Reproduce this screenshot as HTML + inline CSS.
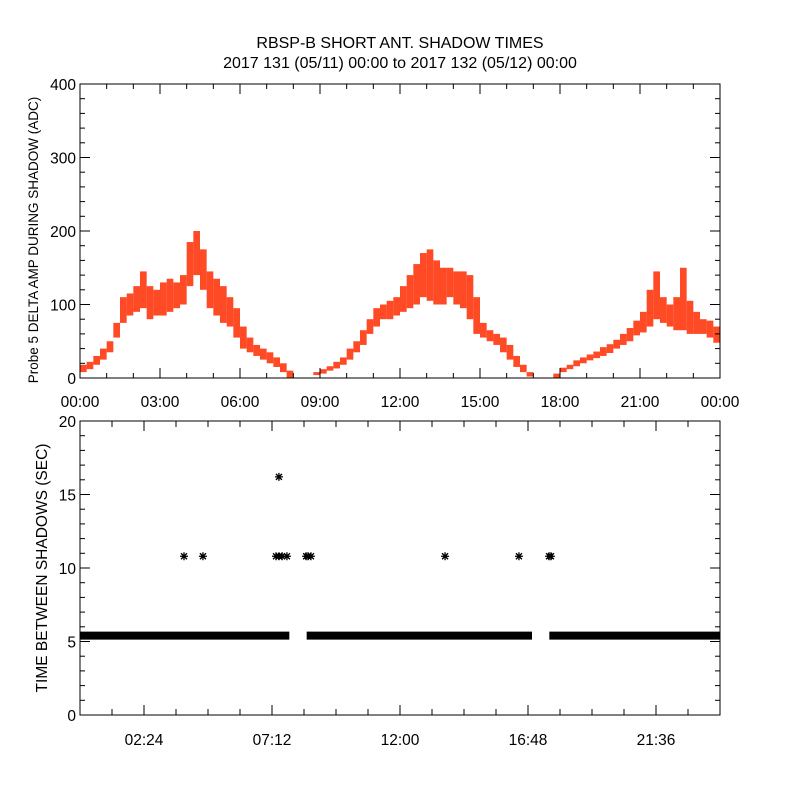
<!DOCTYPE html>
<html><head><meta charset="utf-8"><style>
html,body{margin:0;padding:0;background:#fff}
svg{display:block}
text{font-family:"Liberation Sans",sans-serif;fill:#000}
</style></head><body>
<svg id="c" width="800" height="800" viewBox="0 0 800 800">
<text x="400" y="48" font-size="16" text-anchor="middle">RBSP-B SHORT ANT. SHADOW TIMES</text>
<text x="400" y="68" font-size="16" text-anchor="middle">2017 131 (05/11) 00:00 to 2017 132 (05/12) 00:00</text>
<g id="topPanel"></g>
<g id="botPanel"></g>
</svg>
<script>
// Top panel: 15-minute bins of probe 5 delta amp (low / high envelope)
const ampLow=[8,12,18,25,35,55,75,85,90,95,80,85,85,90,95,100,125,140,120,95,85,75,70,55,40,35,30,25,20,15,8,0,null,null,null,4,6,10,13,18,25,35,45,60,70,80,80,85,90,95,100,110,105,100,100,110,100,95,80,60,55,50,45,35,25,15,8,2,null,null,null,0,8,12,16,20,24,27,30,34,40,45,50,58,62,70,80,75,70,65,65,60,60,60,55,48];
const ampHigh=[18,22,30,40,50,75,110,115,125,145,125,120,130,135,130,140,185,200,175,145,135,125,110,95,70,55,45,40,35,28,20,10,null,null,null,8,12,16,22,28,40,50,65,80,95,100,105,110,125,140,155,170,175,160,150,150,145,145,140,110,75,65,60,55,45,30,18,8,null,null,null,6,14,18,24,28,32,36,42,46,52,60,68,78,90,120,145,110,100,110,150,105,90,80,78,70];
const topYTicks=[0,100,200,300,400];
const topXLabels=["00:00","03:00","06:00","09:00","12:00","15:00","18:00","21:00","00:00"];
// Bottom panel
const baseGap=5.4;
const baseSegments=[[0,7.85],[8.5,16.95],[17.6,24]];
const starHours=[3.9,4.61,7.35,7.46,7.58,7.76,8.48,8.55,8.66,13.69,16.46,17.59,17.66,7.46];
const starValues=[10.8,10.8,10.8,10.8,10.8,10.8,10.8,10.8,10.8,10.8,10.8,10.8,10.8,16.2];
const botYTicks=[0,5,10,15,20];
const botXLabels=["02:24","07:12","12:00","16:48","21:36"];

const NS="http://www.w3.org/2000/svg";
function mk(p,t,a){const e=document.createElementNS(NS,t);for(const k in a)e.setAttribute(k,a[k]);p.appendChild(e);return e;}
const X0=80,X1=720;
const xh=h=>X0+(X1-X0)*h/24;
const yT=v=>378-v*(378-84)/400;
const yB=v=>715-v*(715-421)/20;

const topG=document.getElementById('topPanel');
for(let i=0;i<ampLow.length;i++){
  if(ampLow[i]===null)continue;
  const y1=yT(ampHigh[i]),y2=yT(ampLow[i]);
  const r=mk(topG,'rect',{x:xh(i/4),y:y1,width:(X1-X0)/96,height:Math.max(1.5,y2-y1),fill:'#ff2a00',opacity:0.85});
  
  
}
const tf=mk(topG,'rect',{x:X0,y:84,width:X1-X0,height:294,fill:'none',stroke:'#000','stroke-width':1});


for(let v=0;v<=400;v+=20){const L=v%100===0?10:5;
  mk(topG,'line',{x1:X0,x2:X0+L,y1:yT(v),y2:yT(v),stroke:'#000'});
  mk(topG,'line',{x1:X1,x2:X1-L,y1:yT(v),y2:yT(v),stroke:'#000'});}
topYTicks.forEach(v=>{const t=mk(topG,'text',{x:X0-4,y:yT(v)+6,'font-size':15.5,'text-anchor':'end'});t.textContent=v;
  
  });
for(let h=0;h<=24;h++){const L=h%3===0?10:5;
  mk(topG,'line',{x1:xh(h),x2:xh(h),y1:378,y2:378-L,stroke:'#000'});
  mk(topG,'line',{x1:xh(h),x2:xh(h),y1:84,y2:84+L,stroke:'#000'});}
topXLabels.forEach((s,i)=>{const t=mk(topG,'text',{x:xh(i*3),y:407,'font-size':15.5,'text-anchor':'middle'});t.textContent=s;
  
  });
const ty=mk(topG,'text',{x:0,y:0,'font-size':13.5,'text-anchor':'middle',transform:'translate(38,240) rotate(-90)'});
ty.textContent='Probe 5 DELTA AMP DURING SHADOW (ADC)';



const botG=document.getElementById('botPanel');
baseSegments.forEach(s=>{const r=mk(botG,'rect',{x:xh(s[0]),y:yB(baseGap)-4,width:xh(s[1])-xh(s[0]),height:8,fill:'#000'});
  
  });
starHours.forEach((h,i)=>{
  const cx=xh(h),cy=yB(starValues[i]);
  const g=mk(botG,'path',{d:`M${cx-4},${cy}H${cx+4}M${cx},${cy-4}V${cy+4}M${cx-3},${cy-3}L${cx+3},${cy+3}M${cx-3},${cy+3}L${cx+3},${cy-3}`,stroke:'#000','stroke-width':1.3,fill:'none'});
  
  });
const bf=mk(botG,'rect',{x:X0,y:421,width:X1-X0,height:294,fill:'none',stroke:'#000','stroke-width':1});


for(let v=0;v<=20;v++){const L=v%5===0?10:5;
  mk(botG,'line',{x1:X0,x2:X0+L,y1:yB(v),y2:yB(v),stroke:'#000'});
  mk(botG,'line',{x1:X1,x2:X1-L,y1:yB(v),y2:yB(v),stroke:'#000'});}
botYTicks.forEach(v=>{const t=mk(botG,'text',{x:X0-4,y:yB(v)+6,'font-size':15.5,'text-anchor':'end'});t.textContent=v;
  
  });
for(let k=0;k<=20;k++){const h=k*1.2,L=k%4===2?10:6;
  mk(botG,'line',{x1:xh(h),x2:xh(h),y1:715,y2:715-L,stroke:'#000'});
  mk(botG,'line',{x1:xh(h),x2:xh(h),y1:421,y2:421+L,stroke:'#000'});}
botXLabels.forEach((s,i)=>{const t=mk(botG,'text',{x:xh(2.4+i*4.8),y:745,'font-size':15.5,'text-anchor':'middle'});t.textContent=s;
  
  });
const by=mk(botG,'text',{x:0,y:0,'font-size':15.5,'text-anchor':'middle',transform:'translate(47,568) rotate(-90)'});
by.textContent='TIME BETWEEN SHADOWS (SEC)';


</script>
</body></html>
